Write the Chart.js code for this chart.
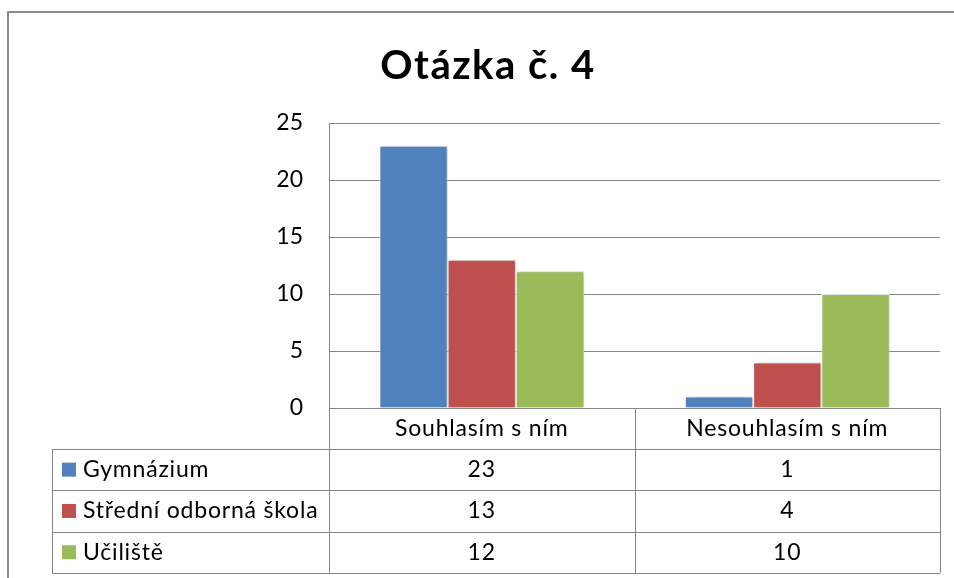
<!DOCTYPE html>
<html><head><meta charset="utf-8">
<script src="https://cdn.jsdelivr.net/npm/chart.js@4/dist/chart.umd.min.js"></script>
<style>html,body{margin:0;padding:0;background:#fff}#wrap{width:954px;height:578px;position:relative}</style>
</head><body><div id="wrap"><canvas id="c" width="954" height="578"></canvas></div>
<script>
const title = "Otázka č. 4";
const categories = ["Souhlasím s ním", "Nesouhlasím s ním"];
const seriesNames = ["Gymnázium", "Střední odborná škola", "Učiliště"];
const gymnazium = [23, 1];
const stredniOdborna = [13, 4];
const uciliste = [12, 10];
const yTicks = [0, 5, 10, 15, 20, 25];
const colors = ["#4F81BD", "#C0504D", "#9BBB59"];
const seriesValues = [gymnazium, stredniOdborna, uciliste];

const FONT = "Lato, 'Open Sans', sans-serif";
const LINE = "#868686";

const tablePlugin = {
  id: 'tablePlugin',
  beforeDraw(chart) {
    const ctx = chart.ctx;
    ctx.save();
    ctx.fillStyle = '#fff';
    ctx.fillRect(0, 0, chart.width, chart.height);
    ctx.strokeStyle = '#8c8c8c';
    ctx.lineWidth = 2;
    ctx.strokeRect(8, 12, chart.width + 20, chart.height + 20);
    ctx.restore();
  },
  beforeDatasetDraw(chart) {
    const ctx = chart.ctx;
    ctx.save();
    ctx.shadowColor = 'rgba(0,0,0,0.28)';
    ctx.shadowBlur = 4;
    ctx.shadowOffsetX = 1.5;
    ctx.shadowOffsetY = 0;
  },
  afterDatasetDraw(chart) {
    chart.ctx.restore();
  },
  afterDraw(chart) {
    const ctx = chart.ctx;
    const ca = chart.chartArea;
    const x = chart.scales.x;
    const left = ca.left, right = ca.right, top = ca.bottom;
    const tableLeft = 52;
    const rowH = 41.3;
    const headH = 41;
    const n = categories.length;
    const colW = (right - left) / n;
    ctx.save();
    // title
    ctx.fillStyle = '#000';
    ctx.font = "bold 40px " + FONT;
    ctx.letterSpacing = '1.5px';
    ctx.textAlign = 'center';
    ctx.textBaseline = 'middle';
    ctx.fillText(title, 488, 66);
    ctx.letterSpacing = '0px';
    // lines
    ctx.strokeStyle = LINE;
    ctx.lineWidth = 1;
    const hl = (y, x0, x1) => { ctx.beginPath(); ctx.moveTo(x0, Math.round(y) + 0.5); ctx.lineTo(x1, Math.round(y) + 0.5); ctx.stroke(); };
    const vl = (xx, y0, y1) => { ctx.beginPath(); ctx.moveTo(Math.round(xx) + 0.5, y0); ctx.lineTo(Math.round(xx) + 0.5, y1); ctx.stroke(); };
    const bottom = top + headH + rowH * seriesNames.length;
    hl(top, left, right);
    for (let i = 0; i <= seriesNames.length; i++) hl(top + headH + rowH * i, tableLeft, right);
    vl(tableLeft, top + headH, bottom);
    for (let i = 0; i <= n; i++) vl(left + colW * i, top, bottom);
    // header
    ctx.fillStyle = '#000';
    ctx.font = "23px " + FONT;
    ctx.letterSpacing = '0.8px';
    ctx.textAlign = 'center';
    categories.forEach((c, i) => ctx.fillText(c, x.getPixelForValue(i), top + headH / 2));
    // rows
    seriesNames.forEach((s, r) => {
      const cy = top + headH + rowH * r + rowH / 2;
      ctx.fillStyle = colors[r];
      ctx.fillRect(62, cy - 7, 14, 14);
      ctx.fillStyle = '#000';
      ctx.textAlign = 'left';
      ctx.fillText(s, 83, cy);
      ctx.textAlign = 'center';
      seriesValues[r].forEach((v, i) => ctx.fillText(String(v), x.getPixelForValue(i), cy));
    });
    ctx.restore();
  }
};

new Chart(document.getElementById('c'), {
  type: 'bar',
  data: {
    labels: categories,
    datasets: seriesNames.map((name, i) => ({
      label: name,
      data: seriesValues[i],
      backgroundColor: colors[i],
      borderColor: '#ffffff',
      borderWidth: 1,
      categoryPercentage: 0.67,
      barPercentage: 1.0
    }))
  },
  options: {
    responsive: false,
    animation: false,
    layout: { padding: { left: 0, top: 123, right: 14, bottom: 170 } },
    plugins: { legend: { display: false }, tooltip: { enabled: false }, title: { display: false } },
    scales: {
      x: { display: false },
      y: {
        min: 0, max: 25,
        afterFit(scale) { scale.width = 329; },
        afterBuildTicks(scale) { scale.ticks = yTicks.map(v => ({ value: v })); },
        ticks: { color: '#000', font: { size: 23, family: FONT }, padding: 26 },
        grid: { color: LINE, drawTicks: false },
        border: { display: true, color: LINE }
      }
    }
  },
  plugins: [tablePlugin]
});
</script></body></html>
